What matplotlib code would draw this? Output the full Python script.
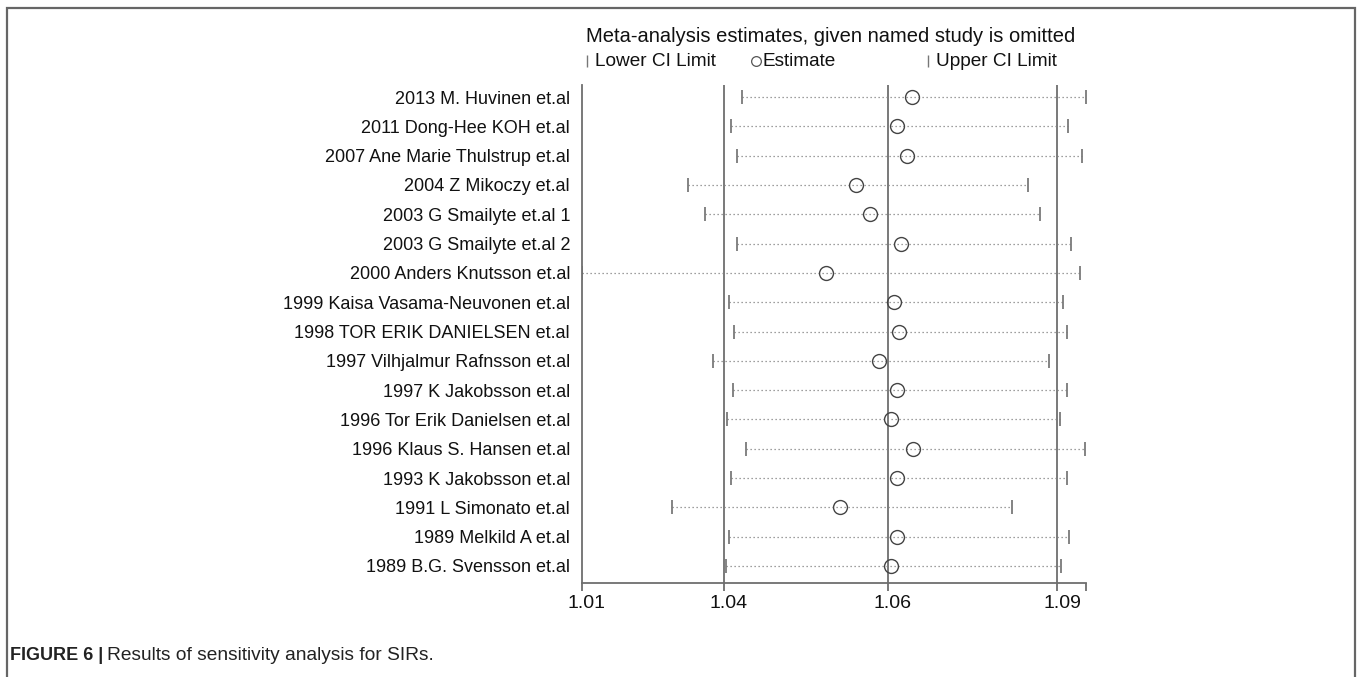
import matplotlib
matplotlib.use("Agg")
import matplotlib.pyplot as plt
from matplotlib.lines import Line2D
from matplotlib.patches import Rectangle
from matplotlib.transforms import ScaledTranslation

plt.rcParams['font.family'] = ['Liberation Sans', 'DejaVu Sans']

studies = [
    "2013 M. Huvinen et.al",
    "2011 Dong-Hee KOH et.al",
    "2007 Ane Marie Thulstrup et.al",
    "2004 Z Mikoczy et.al",
    "2003 G Smailyte et.al 1",
    "2003 G Smailyte et.al 2",
    "2000 Anders Knutsson et.al",
    "1999 Kaisa Vasama-Neuvonen et.al",
    "1998 TOR ERIK DANIELSEN et.al",
    "1997 Vilhjalmur Rafnsson et.al",
    "1997 K Jakobsson et.al",
    "1996 Tor Erik Danielsen et.al",
    "1996 Klaus S. Hansen et.al",
    "1993 K Jakobsson et.al",
    "1991 L Simonato et.al",
    "1989 Melkild A et.al",
    "1989 B.G. Svensson et.al",
]
lower = [1.0384, 1.0368, 1.0377, 1.0304, 1.0329, 1.0376, 1.0145, 1.0365, 1.0372,
         1.0341, 1.0370, 1.0361, 1.0390, 1.0367, 1.0280, 1.0364, 1.0360]
estimate = [1.0638, 1.0616, 1.0631, 1.0554, 1.0576, 1.0621, 1.0510, 1.0611, 1.0618,
            1.0588, 1.0616, 1.0606, 1.0640, 1.0615, 1.0530, 1.0615, 1.0606]
upper = [1.0898, 1.0871, 1.0892, 1.0812, 1.0830, 1.0875, 1.0889, 1.0863, 1.0870,
         1.0843, 1.0869, 1.0859, 1.0896, 1.0870, 1.0787, 1.0872, 1.0861]
overall = [1.0357, 1.0602, 1.0855]
tick_values = [1.0145, 1.0357, 1.0602, 1.0855, 1.0898]
tick_labels = ["1.01", "1.04", "1.06", "1.09", ""]

W, H = 1357, 677
fig = plt.figure(figsize=(W / 100, H / 100), dpi=100)

GRAY = '#6e6e6e'
TXT = '#111111'
ax = fig.add_axes([582 / W, 1 - 583 / H, (1086 - 582) / W, (583 - 85) / H])
ys = list(range(len(studies)))
for i in ys:
    ax.plot([lower[i], upper[i]], [i, i], ls=(0, (1, 2.2)), lw=0.9, color='#808080')
ax.plot(lower, ys, ls='none', marker='|', ms=10, mew=1.3, color='#7a7a7a')
ax.plot(upper, ys, ls='none', marker='|', ms=10, mew=1.3, color='#7a7a7a')
ax.plot(estimate, ys, ls='none', marker='o', ms=10, mfc='none', mec='#444444', mew=1.0)
for v in overall:
    ax.axvline(v, color=GRAY, lw=1.3, zorder=0)

ax.set_xlim(tick_values[0], tick_values[-1])
ax.set_ylim(16.58, -0.41)
for s in ['top', 'right']:
    ax.spines[s].set_visible(False)
for s in ['left', 'bottom']:
    ax.spines[s].set_color(GRAY)
    ax.spines[s].set_linewidth(1.3)
ax.set_xticks(tick_values, tick_labels)
ax.tick_params(axis='x', length=6, width=1.3, color=GRAY, labelsize=14, pad=3, labelcolor=TXT)
shift = ScaledTranslation(5 / 100, 0, fig.dpi_scale_trans)
for lab in ax.get_xticklabels():
    lab.set_transform(lab.get_transform() + shift)
ax.set_yticks(ys, studies)
ax.tick_params(axis='y', length=0, pad=8.6, labelsize=13, labelcolor=TXT)

# header
fig.text(831 / W, 1 - 37 / H, "Meta-analysis estimates, given named study is omitted",
         ha='center', va='center', fontsize=14.5, color=TXT)
ly = 1 - 61 / H
fig.add_artist(Line2D([587 / W], [ly], marker='|', ms=9, mew=1.0, color='#777777', ls='none'))
fig.text(595 / W, ly, "Lower CI Limit", ha='left', va='center', fontsize=13.7, color=TXT)
fig.add_artist(Line2D([756 / W], [ly], marker='o', ms=7, mfc='none', mec='#555555', mew=0.9, ls='none'))
fig.text(762 / W, ly, "Estimate", ha='left', va='center', fontsize=13.7, color=TXT)
fig.add_artist(Line2D([928 / W], [ly], marker='|', ms=9, mew=1.0, color='#777777', ls='none'))
fig.text(936 / W, ly, "Upper CI Limit", ha='left', va='center', fontsize=13.7, color=TXT)

# frame
fig.add_artist(Rectangle((7 / W, -0.05), (1355 - 7) / W, 1 - 8 / H + 0.05,
                         transform=fig.transFigure, fill=False, ec='#666666', lw=1.6, clip_on=False))

# caption
cap_y = 1 - 655 / H
fig.text(10 / W, cap_y, "FIGURE 6 |", ha='left', va='center', fontsize=13,
         fontweight='bold', color='#222222')
fig.text(107 / W, cap_y, "Results of sensitivity analysis for SIRs.", ha='left', va='center',
         fontsize=13.8, color='#222222')

fig.savefig('out.png', dpi=100)
